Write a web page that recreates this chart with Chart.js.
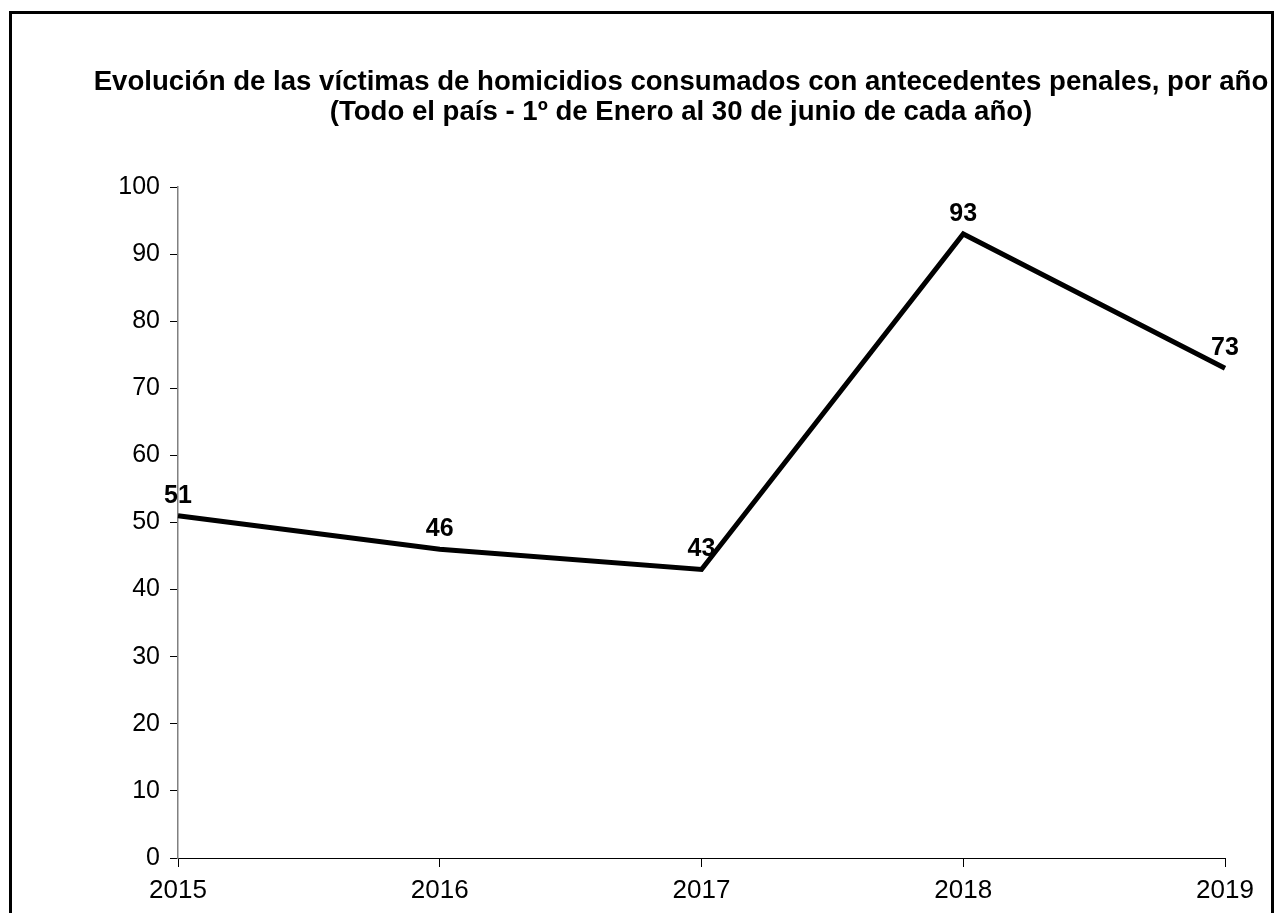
<!DOCTYPE html>
<html>
<head>
<meta charset="utf-8">
<script src="https://cdn.jsdelivr.net/npm/chart.js@4/dist/chart.umd.min.js"></script>
<style>
    html, body { margin: 0; padding: 0; background: #fff; overflow: hidden; }
    #wrap { position: relative; width: 1275px; height: 913px; }
    #frame {
        position: absolute; left: 9px; top: 11px;
        width: 1259px; height: 1000px;
        border: 3px solid #000;
        pointer-events: none;
    }
</style>
</head>
<body>
<div id="wrap">
    <canvas id="chart" width="1275" height="913"></canvas>
    <div id="frame"></div>
</div>
<script>
const years = ['2015', '2016', '2017', '2018', '2019'];
const victims = [51, 46, 43, 93, 73];
const yTicks = { min: 0, max: 100, step: 10 };
const titleLines = [
    'Evolución de las víctimas de homicidios consumados con antecedentes penales, por año',
    '(Todo el país - 1º de Enero al 30 de junio de cada año)'
];

const FONT = '"Liberation Sans", Arial, sans-serif';

// value labels above each point
const pointLabels = {
    id: 'pointLabels',
    afterDatasetsDraw(chart) {
        const ctx = chart.ctx;
        const meta = chart.getDatasetMeta(0);
        ctx.save();
        ctx.font = 'bold 25px ' + FONT;
        ctx.fillStyle = '#000';
        ctx.textAlign = 'center';
        ctx.textBaseline = 'alphabetic';
        meta.data.forEach((pt, i) => {
            ctx.fillText(String(victims[i]), pt.x, pt.y - 13);
        });
        ctx.restore();
    }
};

const ctx = document.getElementById('chart').getContext('2d');
new Chart(ctx, {
    type: 'line',
    data: {
        labels: years,
        datasets: [{
            label: 'Víctimas',
            data: victims,
            borderColor: '#000',
            borderWidth: 5,
            borderJoinStyle: 'miter',
            pointRadius: 0,
            pointHoverRadius: 0,
            tension: 0,
            fill: false,
        }]
    },
    options: {
        responsive: false,
        animation: false,
        events: [],
        layout: { padding: { left: 87, right: 0, top: 0, bottom: 0 } },
        plugins: {
            legend: { display: false },
            tooltip: { enabled: false },
            title: {
                display: true,
                text: titleLines,
                color: '#000',
                font: { family: FONT, size: 27.6, weight: 'bold', lineHeight: '30px' },
                padding: { top: 67, bottom: 60 }
            }
        },
        scales: {
            x: {
                type: 'category',
                offset: false,
                grid: { drawOnChartArea: false, color: '#000', tickLength: 9, lineWidth: 1 },
                border: { color: '#000', width: 1 },
                ticks: { color: '#000', font: { family: FONT, size: 26 }, padding: 8, maxRotation: 0, autoSkip: false },
                afterFit(scale) { scale.height = 55; }
            },
            y: {
                min: yTicks.min,
                max: yTicks.max,
                grid: { drawOnChartArea: false, color: '#000', tickLength: 8, lineWidth: 1 },
                border: { color: '#808080', width: 1.5 },
                ticks: { stepSize: yTicks.step, color: '#000', font: { family: FONT, size: 25 }, padding: 10 },
                afterFit(scale) { scale.width = 91; }
            },
            yRight: {
                position: 'right',
                display: true,
                grid: { display: false, drawTicks: false },
                border: { display: false },
                ticks: { display: false },
                afterFit(scale) { scale.width = 50; }
            }
        }
    },
    plugins: [pointLabels]
});
</script>
</body>
</html>
